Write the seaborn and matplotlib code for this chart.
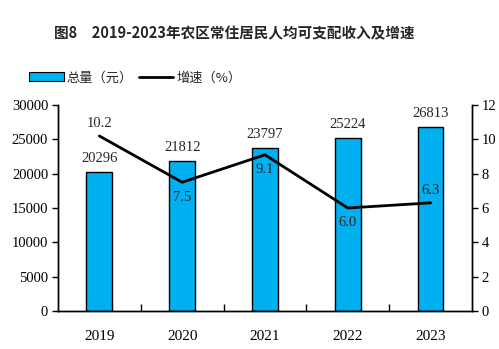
import matplotlib
matplotlib.use("Agg")
import matplotlib.pyplot as plt
import seaborn as sns
import numpy as np
import pandas as pd
from matplotlib.patches import Patch
from matplotlib.lines import Line2D

years = ["2019", "2020", "2021", "2022", "2023"]
income = [20296, 21812, 23797, 25224, 26813]
growth = [10.2, 7.5, 9.1, 6.0, 6.3]
growth_above = [True, False, False, False, True]

sns.set_theme(style="white")
plt.rcParams['font.family'] = ['Liberation Serif', 'Noto Sans CJK SC']

df = pd.DataFrame({"year": years, "income": income, "growth": growth})

fig = plt.figure(figsize=(4.99, 3.49), dpi=100)
ax = fig.add_axes([0.116, 0.109, 0.830, 0.590])

sns.barplot(data=df, x="year", y="income", color="#00B0F0", saturation=1,
            edgecolor="black", linewidth=1.0, width=0.31, ax=ax)
ax.set_ylim(0, 30000)
ax.set_yticks(np.arange(0, 30001, 5000))
ax.set_xlim(-0.5, len(years) - 0.5)
ax.set_xlabel("")
ax.set_ylabel("")
for i, v in enumerate(income):
    ax.annotate(str(v), (i, v), xytext=(0, 5), textcoords="offset points",
                ha="center", va="bottom", fontsize=10.5, family="Liberation Serif")

ax2 = ax.twinx()
sns.lineplot(x=np.arange(len(years)), y=growth, color="black", linewidth=2, ax=ax2)
ax2.set_ylim(0, 12)
ax2.set_yticks(np.arange(0, 13, 2))
ax2.set_xlim(-0.5, len(years) - 0.5)
for i, (g, up) in enumerate(zip(growth, growth_above)):
    ax2.annotate(f"{g:.1f}", (i, g), xytext=(0, 4 if up else -6), textcoords="offset points",
                 ha="center", va="bottom" if up else "top", fontsize=10.5, family="Liberation Serif")

for a in (ax, ax2):
    a.spines["top"].set_visible(False)
    for s in ("left", "right", "bottom"):
        a.spines[s].set_color("black")
        a.spines[s].set_linewidth(1.0)
    a.grid(False)

ax.tick_params(axis="y", which="both", left=True, direction="out", length=4, width=1,
               labelsize=10.5, colors="black", pad=3)
ax2.tick_params(axis="y", which="both", right=True, direction="out", length=4, width=1,
                labelsize=10.5, colors="black", pad=3)
ax.set_xticks(np.arange(len(years)))
ax.set_xticklabels(years)
ax.tick_params(axis="x", which="major", bottom=False, labelsize=11, colors="black", pad=8)
ax.set_xticks(np.arange(len(years) - 1) + 0.5, minor=True)
ax.tick_params(axis="x", which="minor", bottom=True, direction="in", length=5, width=1, color="black")
for lab in ax.get_yticklabels() + ax2.get_yticklabels() + ax.get_xticklabels():
    lab.set_family("Liberation Serif")

fig.text(0.47, 0.905, "图8　2019-2023年农区常住居民人均可支配收入及增速", ha="center", va="center",
         fontsize=10.5, fontweight="bold", family=["Noto Sans CJK SC", "DejaVu Sans"])

handles = [Patch(facecolor="#00B0F0", edgecolor="black", linewidth=0.8),
           Line2D([0], [0], color="black", linewidth=2)]
fig.legend(handles, ["总量（元）", "增速（%）"], loc="center left", bbox_to_anchor=(0.035, 0.777),
           ncol=2, frameon=False, handlelength=2.6, handleheight=0.7, handletextpad=0.2,
           columnspacing=0.5, prop={"family": "Noto Sans CJK SC", "size": 9.5})

fig.savefig("out.png", dpi=100)
